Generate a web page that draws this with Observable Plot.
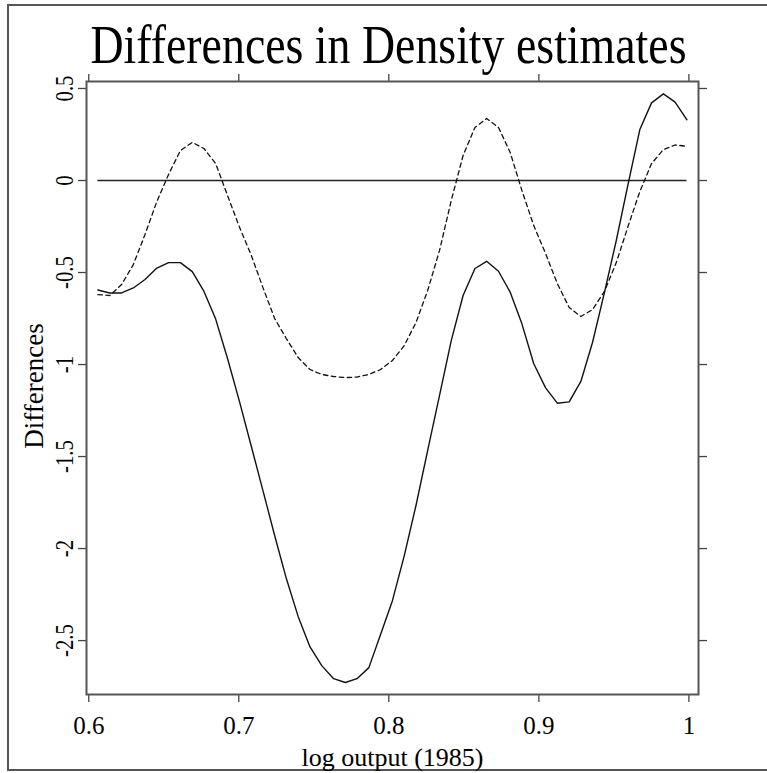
<!DOCTYPE html>
<html>
<head>
<meta charset="utf-8">
<script src="https://cdn.jsdelivr.net/npm/d3@7"></script>
<script src="https://cdn.jsdelivr.net/npm/@observablehq/plot@0.6"></script>
<style>
  html, body { margin: 0; padding: 0; background: #fff; overflow: hidden; }
  #wrap { position: relative; width: 767px; height: 773px; }
  #border { position: absolute; left: 7px; top: 4px; width: 775px; height: 767px;
            border: 2px solid #555; box-sizing: border-box; }
  #wrap svg { position: absolute; left: 0; top: 0; }
</style>
</head>
<body>
<div id="wrap"><div id="border"></div></div>
<script>
const title = "Differences in Density estimates";
const xLabel = "log output (1985)";
const yLabel = "Differences";

const xs = [0.6061, 0.6140, 0.6219, 0.6297, 0.6375, 0.6454, 0.6532, 0.6611, 0.6690, 0.6768,
            0.6846, 0.6925, 0.7003, 0.7082, 0.7161, 0.7239, 0.7317, 0.7396, 0.7474, 0.7553,
            0.7632, 0.7710, 0.7788, 0.7867, 0.7945, 0.8024, 0.8103, 0.8181, 0.8259, 0.8338,
            0.8416, 0.8495, 0.8574, 0.8652, 0.8731, 0.8809, 0.8887, 0.8966, 0.9045, 0.9123,
            0.9202, 0.9280, 0.9358, 0.9437, 0.9516, 0.9594, 0.9673, 0.9751, 0.9830, 0.9908,
            0.9987];

const solid = [-0.595, -0.611, -0.611, -0.584, -0.538, -0.476, -0.446, -0.446, -0.495, -0.603,
               -0.753, -0.967, -1.196, -1.440, -1.685, -1.929, -2.163, -2.370, -2.533, -2.636,
               -2.707, -2.728, -2.707, -2.647, -2.467, -2.283, -2.038, -1.766, -1.467, -1.168,
               -0.870, -0.625, -0.478, -0.439, -0.493, -0.607, -0.779, -0.996, -1.127, -1.210,
               -1.203, -1.092, -0.879, -0.609, -0.326, -0.022, 0.277, 0.422, 0.471, 0.426,
               0.330];

const dashed = [-0.620, -0.625, -0.565, -0.457, -0.293, -0.114, 0.033, 0.163, 0.207, 0.174,
                0.092, -0.082, -0.250, -0.404, -0.582, -0.750, -0.859, -0.962, -1.027, -1.054,
                -1.065, -1.071, -1.068, -1.054, -1.027, -0.978, -0.897, -0.772, -0.598, -0.380,
                -0.109, 0.136, 0.288, 0.337, 0.288, 0.152, -0.054, -0.245, -0.397, -0.560,
                -0.690, -0.739, -0.701, -0.603, -0.446, -0.250, -0.060, 0.092, 0.168, 0.193,
                0.186];

const xTicks = [0.6, 0.7, 0.8, 0.9, 1];
const xTickLabels = ["0.6", "0.7", "0.8", "0.9", "1"];
const yTicks = [0.5, 0, -0.5, -1, -1.5, -2, -2.5];
const yTickLabels = ["0.5", "0", "-0.5", "-1", "-1.5", "-2", "-2.5"];

const solidRows = xs.map((x, i) => ({x, y: solid[i]}));
const dashedRows = xs.map((x, i) => ({x, y: dashed[i]}));
const zeroRows = [{y: 0, x1: xs[0], x2: xs[xs.length - 1]}];
const yTickRows = yTicks.map((v, i) => ({v, label: yTickLabels[i]}));
const xTickRows = xTicks.map((v, i) => ({v, label: xTickLabels[i]}));

const axisStroke = "#444";

const chart = Plot.plot({
  width: 767,
  height: 773,
  marginTop: 81,
  marginBottom: 79,
  marginLeft: 86,
  marginRight: 69,
  x: {domain: [0.5985, 1.0064]},
  y: {domain: [-2.793, 0.538]},
  style: {fontFamily: "'Liberation Serif', 'Times New Roman', serif", background: "transparent", overflow: "visible", color: "#000"},
  marks: [
    Plot.axisX({anchor: "bottom", ticks: xTicks, tickSize: 8, tickFormat: () => "", label: null, stroke: axisStroke, strokeWidth: 1.3}),
    Plot.axisX({anchor: "top", ticks: xTicks, tickSize: 8, tickFormat: () => "", label: null, stroke: axisStroke, strokeWidth: 1.3}),
    Plot.axisY({anchor: "left", ticks: yTicks, tickSize: 8, tickFormat: () => "", label: null, stroke: axisStroke, strokeWidth: 1.3}),
    Plot.axisY({anchor: "right", ticks: yTicks, tickSize: 8, tickFormat: () => "", label: null, stroke: axisStroke, strokeWidth: 1.3}),
    Plot.frame({stroke: "#555", strokeWidth: 2}),
    Plot.text(xTickRows, {x: "v", text: "label", frameAnchor: "bottom", lineAnchor: "bottom", dy: 39,
                          fontSize: 25, fill: "#000"}),
    Plot.text(yTickRows, {y: "v", text: "label", frameAnchor: "left", rotate: -90, textAnchor: "middle",
                          lineAnchor: "bottom", dx: -13.5, fontSize: 26, fill: "#000"}),
    Plot.text([yLabel], {text: d => d, frameAnchor: "left", rotate: -90, textAnchor: "middle",
                         lineAnchor: "bottom", dx: -44, dy: -2, fontSize: 27, fill: "#000"}),
    Plot.text([xLabel], {text: d => d, frameAnchor: "bottom", lineAnchor: "bottom", dy: 71, fontSize: 26, fill: "#000"}),
    Plot.text([title], {text: d => d, frameAnchor: "top", lineAnchor: "bottom", dx: -4, dy: -19, fontSize: 55, fill: "#000"}),
    Plot.ruleY(zeroRows, {y: "y", x1: "x1", x2: "x2", stroke: "#222", strokeWidth: 1.3}),
    Plot.line(dashedRows, {x: "x", y: "y", stroke: "#111", strokeWidth: 1.3, strokeDasharray: "4.5,3.5"}),
    Plot.line(solidRows, {x: "x", y: "y", stroke: "#111", strokeWidth: 1.4})
  ]
});

document.getElementById("wrap").appendChild(chart);

// condense the title and rotated tick labels like the original
d3.select(chart).selectAll("text").each(function() {
  const t = this.textContent;
  const tr = this.getAttribute("transform") || "";
  if (t === title) {
    this.setAttribute("textLength", 596);
    this.setAttribute("lengthAdjust", "spacingAndGlyphs");
  } else if (yTickLabels.includes(t) && tr.includes("rotate")) {
    const len = this.getComputedTextLength();
    this.setAttribute("textLength", (len * 0.8).toFixed(1));
    this.setAttribute("lengthAdjust", "spacingAndGlyphs");
  }
});
</script>
</body>
</html>
